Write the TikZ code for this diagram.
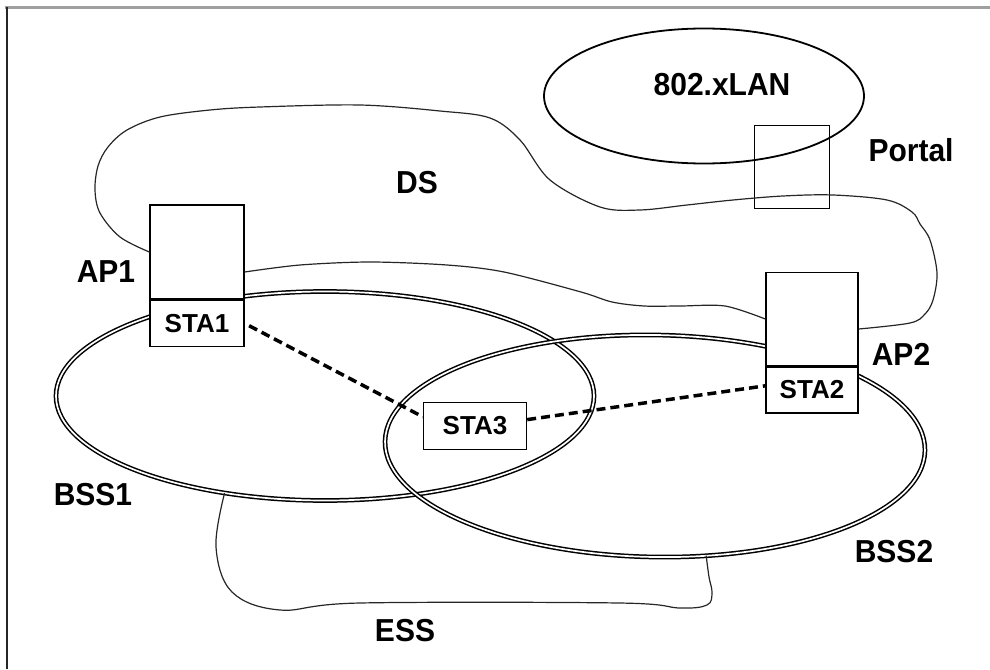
\documentclass[tikz,border=0pt]{standalone}
\usepackage{fontspec}
\setmainfont{Liberation Sans}
\usepackage{tikz}
\usetikzlibrary{positioning,shapes.geometric}

\begin{document}
\begin{tikzpicture}[
x=1pt, y=-1pt,
lbl/.style={font=\fontsize{30}{34}\selectfont\bfseries, inner sep=0pt, yscale=1.06},
box/.style={draw, fill=white, line width=1.4pt, inner sep=0pt, font=\fontsize{26}{30}\selectfont\bfseries},
cell/.style={draw, ellipse, inner sep=0pt, outer sep=0pt, line width=1.5pt, double, double distance=1.7pt},
edge/.style={line width=1.2pt, black!85},
link/.style={line width=3.5pt, dash pattern=on 9pt off 5pt}
]
\useasboundingbox (0,0) rectangle (990,669);

% page frame
\draw[gray!75, line width=3pt] (5,8) -- (990,8);
\draw[black!85, line width=2pt] (7,7) -- (7,669);

% radio cells and the wired LAN
\node[cell, minimum width=538pt, minimum height=209pt] (bss1) at (325,396) {};
\node[cell, minimum width=540pt, minimum height=222pt, rotate=-1] (bss2) at (655,446) {};
\node[draw, ellipse, inner sep=0pt, line width=1.8pt, minimum width=320pt, minimum height=135pt] (lan) at (704,96) {};

% access points with their stations
\node[box, minimum width=94pt, minimum height=94pt] (ap1) at (197,252) {};
\node[box, minimum width=94pt, minimum height=46pt, below=0pt of ap1] (sta1) {STA1};
\node[box, minimum width=92pt, minimum height=93pt] (ap2) at (812,319) {};
\node[box, minimum width=92pt, minimum height=46pt, below=0pt of ap2] (sta2) {STA2};
\node[box, minimum width=103pt, minimum height=47pt] (sta3) at (475,426) {STA3};
\node[draw, line width=1.3pt, inner sep=0pt, minimum width=75pt, minimum height=83pt] (portal) at (792,167) {};

% distribution system
\draw[edge] plot[smooth, tension=0.55] coordinates {(ap1.west) (120,237) (100,213) (95,190) (98,166) (108,147) (127,130) (160,117) (210,110) (260,107) (360,105) (440,111) (490,118) (520,140) (550,180) (600,207) (640,210) (687,205) (733,200) (783,196) (833,195) (887,200) (912,212) (920,224) (930,240) (937,273) (933,300) (925,314) (910,323) ([yshift=-10pt]ap2.east)};
\draw[edge] plot[smooth, tension=0.5] coordinates {(ap2.west) (725,306) (680,306) (644,306) (612,302) (581,292) (504,272) (447,265) (370,262) (300,265) ([yshift=-20pt]ap1.east)};

% extended service set
\draw[edge] plot[smooth, tension=0.6] coordinates {(bss1.224) (216,547) (232,592) (280,610) (360,603) (619,603) (680,608) (707,605) (712,593) (709,577) (bss2.296)};

% station links
\draw[link, shorten <=5pt] (sta1.east) -- (sta3.170);
\draw[link] (sta3.7) -- (sta2.175);

% labels
\node[lbl] (lanname) at (722,85) {802.xLAN};
\node[lbl] (portalname) at (911,150) {Portal};
\node[lbl] (dsname) at (417,183) {DS};
\node[lbl] (ap1name) at (106,272) {AP1};
\node[lbl] (ap2name) at (901,354) {AP2};
\node[lbl] (bss1name) at (93,495) {BSS1};
\node[lbl] (bss2name) at (894,552) {BSS2};
\node[lbl] (essname) at (405,631) {ESS};
\end{tikzpicture}
\end{document}
